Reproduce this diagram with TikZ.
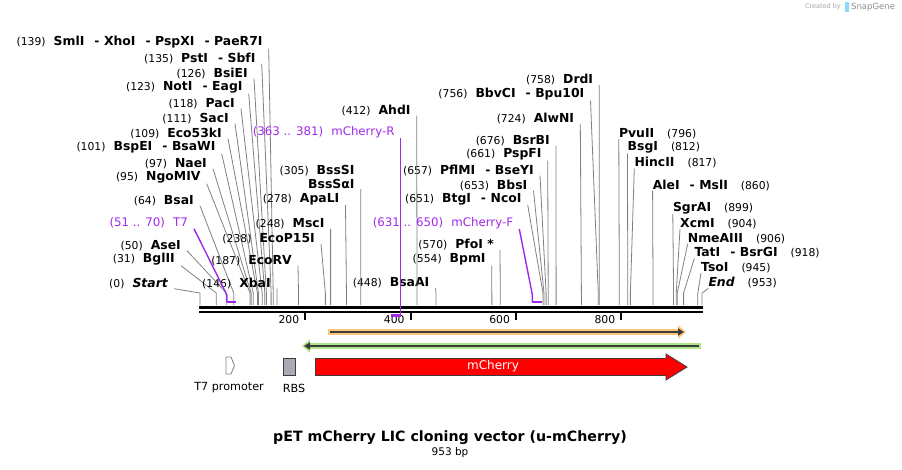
\documentclass[tikz,border=0pt]{standalone}
\usepackage{fontspec}
\setmainfont{DejaVu Sans}
\usepackage{tikz}
\usetikzlibrary{arrows.meta,positioning}

\definecolor{primer}{RGB}{160,40,235}
\definecolor{cutline}{RGB}{128,128,128}
\definecolor{orforange}{RGB}{250,200,120}
\definecolor{orfgreen}{RGB}{175,228,135}
\definecolor{orfdark}{RGB}{60,60,60}
\definecolor{rbsgray}{RGB}{168,172,178}

\newcommand{\sitenum}[1]{{\mdseries\upshape\fontsize{10.8}{12}\selectfont(#1)}}
\newcommand{\lblgap}{\hspace{8pt}}
\newcommand{\dsh}{\hspace{10pt}-\hspace{4.5pt}}

\begin{document}
\begin{tikzpicture}[x=1pt,y=-1pt,
  lbl/.style={inner xsep=6pt,inner ysep=0pt,anchor=south east,
    font=\fontsize{12.4}{14}\selectfont\bfseries},
  rlbl/.style={inner sep=0pt,anchor=south west,
    font=\fontsize{12.4}{14}\selectfont\bfseries},
  plbl/.style={lbl,font=\fontsize{11.8}{14}\selectfont,text=primer},
  cut/.style={draw=cutline,line width=0.8pt},
  oligo/.style={draw=primer,line width=1.4pt}]
  \useasboundingbox (0,0) rectangle (902,469);

  %% Sequence
  \draw[line width=3pt] (199,307.5) -- (702.5,307.5);
  \draw[line width=1.6pt] (199,312.2) -- (702.5,312.2);
  \foreach \t in {200,400,600,800} {
    \draw[line width=2pt] ({200+0.5268*\t},312) -- ++(0,8);
    \node[inner sep=0pt,anchor=east,font=\fontsize{10.8}{12}\selectfont]
      (t\t) at ({194+0.5268*\t},320) {\t};
  }
  \foreach \p in {0,31,50,64,95,97,101,109,111,118,123,126,135,139,146,187,
    238,248,278,305,412,448,554,570,651,653,657,661,676,724,756,758,
    796,812,817,860,899,904,906,918,945,953}
    \coordinate (s\p) at ({200+0.5268*\p},305);

  %% Sites, left side
  \node[lbl] (l139) at (268.7,48.7) {\sitenum{139}\lblgap SmlI\dsh XhoI\dsh PspXI\dsh PaeR7I};
  \node[lbl] (l135) at (261.7,63.7) {\sitenum{135}\lblgap PstI\dsh SbfI};
  \node[lbl] (l126) at (254,78.7) {\sitenum{126}\lblgap BsiEI};
  \node[lbl] (l123) at (248.7,93.7) {\sitenum{123}\lblgap NotI\dsh EagI};
  \node[lbl] (l118) at (241,108.7) {\sitenum{118}\lblgap PacI};
  \node[lbl] (l111) at (235,123.7) {\sitenum{111}\lblgap SacI};
  \node[lbl] (l109) at (228,138.7) {\sitenum{109}\lblgap Eco53kI};
  \node[lbl] (l101) at (221.7,153.7) {\sitenum{101}\lblgap BspEI\dsh BsaWI};
  \node[lbl] (l97) at (213,168.7) {\sitenum{97}\lblgap NaeI};
  \node[lbl] (l95) at (206.7,183.7) {\sitenum{95}\lblgap NgoMIV};
  \node[lbl] (l64) at (200,205.7) {\sitenum{64}\lblgap BsaI};
  \node[lbl] (l50) at (187,250.7) {\sitenum{50}\lblgap AseI};
  \node[lbl] (l31) at (181,265.7) {\sitenum{31}\lblgap BglII};
  \node[lbl] (l0) at (174,288.7) {\sitenum{0}\lblgap{\itshape Start}};
  \foreach \p in {139,135,126,123,118,111,109,101,97,95,64,50,31,0}
    \draw[cut] (l\p.south east) -- ([yshift=12pt]s\p) -- (s\p);

  %% Sites, middle
  \node[lbl] (l146) at (276.9,288.7) {\sitenum{146}\lblgap XbaI};
  \node[lbl] (l187) at (298,265.7) {\sitenum{187}\lblgap EcoRV};
  \node[lbl] (l238) at (321,244) {\sitenum{238}\lblgap EcoP15I};
  \node[lbl] (l248) at (330.6,229) {\sitenum{248}\lblgap MscI};
  \node[lbl] (l278) at (345.5,205) {\sitenum{278}\lblgap ApaLI};
  \node[lbl] (l305) at (360.7,189) {BssSαI};
  \node[lbl] (l305a) at (360.7,175.7) {\sitenum{305}\lblgap BssSI};
  \node[lbl] (l412) at (416.7,115.7) {\sitenum{412}\lblgap AhdI};
  \node[lbl] (l448) at (435.5,288.4) {\sitenum{448}\lblgap BsaAI};
  \node[lbl] (l554) at (491.8,265.7) {\sitenum{554}\lblgap BpmI};
  \node[lbl] (l570) at (500,250) {\sitenum{570}\lblgap PfoI *};
  \node[lbl] (l651) at (527.7,205) {\sitenum{651}\lblgap BtgI\dsh NcoI};
  \node[lbl] (l653) at (533.5,190.7) {\sitenum{653}\lblgap BbsI};
  \node[lbl] (l657) at (540,175.7) {\sitenum{657}\lblgap PflMI\dsh BseYI};
  \node[lbl] (l661) at (547.7,160.7) {\sitenum{661}\lblgap PspFI};
  \node[lbl] (l676) at (556,145.7) {\sitenum{676}\lblgap BsrBI};
  \node[lbl] (l724) at (580.3,124) {\sitenum{724}\lblgap AlwNI};
  \node[lbl] (l756) at (590.5,100.7) {\sitenum{756}\lblgap BbvCI\dsh Bpu10I};
  \node[lbl] (l758) at (599.3,85) {\sitenum{758}\lblgap DrdI};
  \foreach \p in {146,187,238,248,278,305,412,448,554,570,651,653,657,661,676,724,756,758}
    \draw[cut] (l\p.south east) -- ([yshift=12pt]s\p) -- (s\p);

  %% Sites, right side
  \node[rlbl] (l796) at (618.8,139) {PvuII\hspace{13pt}\sitenum{796}};
  \node[rlbl] (l812) at (627.5,153.4) {BsgI\hspace{13pt}\sitenum{812}};
  \node[rlbl] (l817) at (634.3,168.4) {HincII\hspace{13pt}\sitenum{817}};
  \node[rlbl] (l860) at (652.6,190.7) {AleI\dsh MslI\hspace{13pt}\sitenum{860}};
  \node[rlbl] (l899) at (672.8,214) {SgrAI\hspace{13pt}\sitenum{899}};
  \node[rlbl] (l904) at (680,229) {XcmI\hspace{13pt}\sitenum{904}};
  \node[rlbl] (l906) at (687.7,243.7) {NmeAIII\hspace{13pt}\sitenum{906}};
  \node[rlbl] (l918) at (694.3,258.4) {TatI\dsh BsrGI\hspace{13pt}\sitenum{918}};
  \node[rlbl] (l945) at (701,273) {TsoI\hspace{13pt}\sitenum{945}};
  \node[rlbl] (l953) at (708.3,288.4) {{\itshape End}\hspace{13pt}\sitenum{953}};
  \foreach \p in {796,812,817,860,899,904,906,918,945,953}
    \draw[cut] (l\p.south west) -- ([yshift=12pt]s\p) -- (s\p);

  %% Primers
  \coordinate (t7a) at (226.9,302);
  \coordinate (t7b) at (236.4,302);
  \coordinate (fwa) at (532.4,302);
  \coordinate (fwb) at (542.4,302);
  \coordinate (rva) at (391.2,315.5);
  \coordinate (rvb) at (400.7,315.5);
  \node[plbl] (pt7) at (194,228.7) {(51 .. 70)\hspace{8pt}T7};
  \node[plbl] (pfw) at (519.3,229) {(631 .. 650)\hspace{8pt}mCherry-F};
  \node[plbl] (prv) at (400.7,138.4) {(363 .. 381)\hspace{8pt}mCherry-R};
  \draw[oligo] (pt7.south east) -- ([yshift=7pt]t7a) -- (t7a);
  \draw[oligo] (pfw.south east) -- ([yshift=7pt]fwa) -- (fwa);
  \draw[oligo] (prv.south east) -- (rvb);
  \draw[oligo,line width=2.2pt] (t7a) -- (t7b);
  \draw[oligo,line width=2.2pt] (fwa) -- (fwb);
  \draw[oligo,line width=2.2pt] (rva) -- (rvb);

  %% ORFs
  \coordinate (oa) at (328,332);
  \coordinate (ob) at (686,332);
  \coordinate (ga) at (701,346);
  \coordinate (gb) at (302,346);
  \draw[orforange,line width=6pt,-{Triangle[length=8pt,width=13pt]}] (oa) -- (ob);
  \draw[orfdark,line width=2pt,-{Triangle[length=6pt,width=7pt]}] ([xshift=2pt]oa) -- ([xshift=-2pt]ob);
  \draw[orfgreen,line width=6pt,-{Triangle[length=8pt,width=13pt]}] (ga) -- (gb);
  \draw[orfdark,line width=2pt,-{Triangle[length=6pt,width=7pt]}] ([xshift=-2pt]ga) -- ([xshift=2pt]gb);

  %% Features
  \draw[draw=cutline,fill=white,line width=0.8pt] (226,357) -- (231,357) -- (234.5,365.5)
    -- (231,374) -- (226,374) -- cycle;
  \node[font=\fontsize{11.2}{13}\selectfont] (t7p) at (229,388) {T7 promoter};
  \draw[draw=orfdark,fill=rbsgray,line width=0.8pt] (283,358.5) rectangle (295,375.5);
  \node[font=\fontsize{11.2}{13}\selectfont] (rbs) at (294,388) {RBS};
  \draw[draw=orfdark,fill=red,line width=0.8pt] (315.5,358.5) -- (666,358.5) -- (666,354)
    -- (687,367) -- (666,380) -- (666,375.5) -- (315.5,375.5) -- cycle;
  \node[text=white,font=\fontsize{12}{13}\selectfont] (mch) at (493,366.5) {mCherry};

  %% Title
  \node[font=\fontsize{14.2}{16}\selectfont\bfseries] (title) at (450,438)
    {pET mCherry LIC cloning vector (u-mCherry)};
  \node[font=\fontsize{10.5}{12}\selectfont] (size) at (450,453) {953 bp};
  \node[anchor=east,inner sep=0pt,text=black!35,font=\fontsize{6.5}{8}\selectfont]
    (made) at (841,7) {Created by};
  \fill[cyan!45] (845,2) rectangle (849,12);
  \node[anchor=west,inner sep=0pt,text=black!45,font=\fontsize{8.5}{10}\selectfont]
    (sg) at (851,7) {SnapGene};
\end{tikzpicture}
\end{document}
